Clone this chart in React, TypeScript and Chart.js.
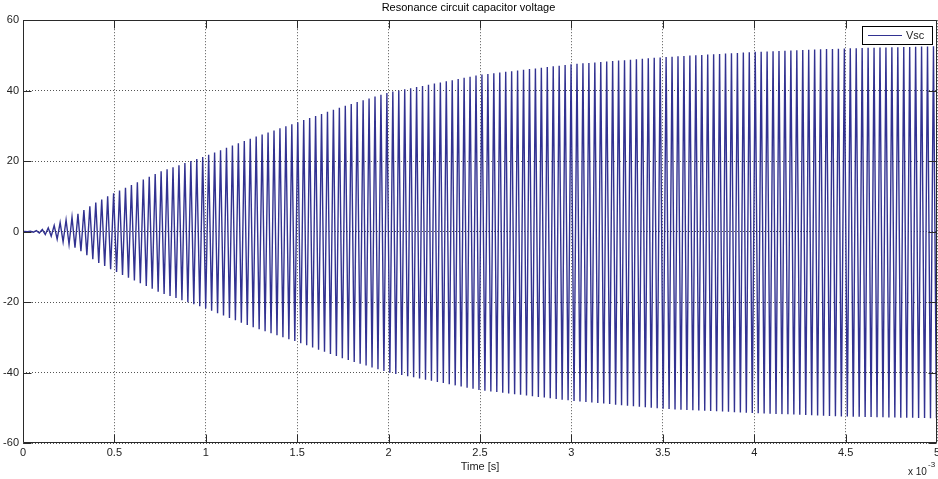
import React, { useEffect, useRef } from 'react';
import { Chart, registerables } from 'chart.js';

Chart.register(...registerables);

const TITLE = 'Resonance circuit capacitor voltage';
const X_LABEL = 'Time [s]';
const SERIES_NAME = 'Vsc';
const X_EXPONENT = '-3';
// x ticks in units of 10^-3 s
const X_TICKS = [0, 0.5, 1, 1.5, 2, 2.5, 3, 3.5, 4, 4.5, 5];
const Y_TICKS = [-60, -40, -20, 0, 20, 40, 60];

// envelope of the oscillation (time in 10^-3 s)
const ENV_T = [0, 0.05, 0.1, 0.15, 0.2, 0.25, 0.3, 0.4, 0.5, 0.75, 1.0, 1.25, 1.5, 1.75, 2.0, 2.5, 3.0, 3.5, 4.0, 4.5, 5.0];
const ENV_UPPER = [0, 0.1, 0.5, 1.2, 2.5, 3.6, 5.0, 8.3, 11.0, 17.0, 21.5, 26.5, 31.0, 35.5, 39.5, 44.5, 47.5, 49.5, 51.0, 52.0, 52.6];
const ENV_LOWER = [0, 0.1, 0.5, 1.2, 2.5, 3.6, 5.0, 8.5, 11.2, 17.3, 21.8, 27.0, 31.3, 36.0, 40.0, 45.0, 48.0, 50.3, 51.5, 52.5, 53.0];
// oscillation period (10^-3 s)
const PERIOD = 0.0325;

const FONT = 'Liberation Sans, Arial, Helvetica, sans-serif';
const LINE_COLOR = 'rgb(50,50,145)';

function envAt(arr: number[], t: number): number {
  for (let i = 0; i < ENV_T.length - 1; i++) {
    if (t <= ENV_T[i + 1]) {
      const f = (t - ENV_T[i]) / (ENV_T[i + 1] - ENV_T[i]);
      return arr[i] + f * (arr[i + 1] - arr[i]);
    }
  }
  return arr[arr.length - 1];
}

function buildPoints() {
  const pts: { x: number; y: number }[] = [{ x: 0, y: 0 }];
  let k = 0;
  for (let t = PERIOD / 4; t <= 5; t += PERIOD / 2, k++) {
    pts.push({ x: t, y: k % 2 === 0 ? envAt(ENV_UPPER, t) : -envAt(ENV_LOWER, t) });
  }
  return pts;
}

const framePlugin = {
  id: 'matlabFrame',
  afterDraw(chart: any) {
    const { ctx, chartArea } = chart;
    const { left, right, top, bottom } = chartArea;
    const xs = chart.scales.x;
    const ys = chart.scales.y;
    ctx.save();
    ctx.strokeStyle = '#2a2a2a';
    ctx.lineWidth = 1;
    const L = Math.round(left) + 0.5;
    const R = Math.round(right) - 0.5;
    const T = Math.round(top) + 0.5;
    const B = Math.round(bottom) - 0.5;
    ctx.beginPath();
    ctx.moveTo(L, T); ctx.lineTo(R, T); ctx.lineTo(R, B); ctx.lineTo(L, B); ctx.closePath();
    const tl = 8;
    X_TICKS.forEach((v) => {
      let px = Math.round(xs.getPixelForValue(v)) + 0.5;
      if (px > R) px = R;
      ctx.moveTo(px, B); ctx.lineTo(px, B - tl);
      ctx.moveTo(px, T); ctx.lineTo(px, T + tl);
    });
    Y_TICKS.forEach((v) => {
      const py = Math.round(ys.getPixelForValue(v)) + 0.5;
      ctx.moveTo(L, py); ctx.lineTo(L + tl, py);
      ctx.moveTo(R, py); ctx.lineTo(R - tl, py);
    });
    ctx.stroke();

    // legend
    const lx = 862.5, ly = 26.5, lw = 70, lh = 18;
    ctx.fillStyle = '#ffffff';
    ctx.fillRect(lx, ly, lw, lh);
    ctx.strokeStyle = '#000000';
    ctx.strokeRect(lx, ly, lw, lh);
    ctx.strokeStyle = LINE_COLOR;
    ctx.beginPath();
    ctx.moveTo(868, 35.5); ctx.lineTo(902, 35.5);
    ctx.stroke();
    ctx.fillStyle = '#222222';
    ctx.font = `11px ${FONT}`;
    ctx.textBaseline = 'middle';
    ctx.textAlign = 'left';
    ctx.fillText(SERIES_NAME, 906, 35.5);

    // exponent label
    ctx.fillStyle = '#222222';
    ctx.font = `10px ${FONT}`;
    ctx.fillText('x 10', 908, 472);
    ctx.font = `8px ${FONT}`;
    ctx.fillText(X_EXPONENT, 928, 465);
    ctx.restore();
  },
};

export default function App() {
  const ref = useRef<HTMLCanvasElement | null>(null);
  useEffect(() => {
    if (!ref.current) return;
    const chart = new Chart(ref.current, {
      type: 'line',
      data: {
        datasets: [
          {
            label: SERIES_NAME,
            data: buildPoints(),
            borderColor: LINE_COLOR,
            borderWidth: 1.4,
            pointRadius: 0,
            tension: 0,
            fill: false,
          },
        ],
      },
      options: {
        animation: false,
        responsive: false,
        devicePixelRatio: 1,
        parsing: false,
        normalized: true,
        layout: { padding: { left: 0, right: 1, top: 0, bottom: 0 } },
        plugins: {
          legend: { display: false },
          tooltip: { enabled: false },
          title: {
            display: true,
            text: TITLE,
            color: '#000',
            font: { family: FONT, size: 11, weight: 'normal' },
            padding: { top: 1, bottom: 6 },
          },
        },
        scales: {
          x: {
            type: 'linear',
            min: 0,
            max: 5,
            afterBuildTicks: (s: any) => {
              s.ticks = X_TICKS.map((v) => ({ value: v }));
            },
            afterFit: (s: any) => {
              s.height = 36;
              s.paddingLeft = 0;
              s.paddingRight = 0;
            },
            ticks: {
              color: '#222',
              font: { family: FONT, size: 11 },
              padding: 3,
              maxRotation: 0,
              autoSkip: false,
              callback: (v: any) => String(v),
            },
            grid: { color: '#555', lineWidth: 1, drawTicks: false },
            border: { display: false, dash: [1, 2] },
            title: {
              display: true,
              text: X_LABEL,
              color: '#222',
              font: { family: FONT, size: 11 },
              padding: { top: 0, bottom: 5 },
            },
          },
          y: {
            type: 'linear',
            min: -60,
            max: 60,
            afterBuildTicks: (s: any) => {
              s.ticks = Y_TICKS.map((v) => ({ value: v }));
            },
            afterFit: (s: any) => {
              s.width = 23;
              s.paddingTop = 0;
              s.paddingBottom = 0;
            },
            ticks: {
              color: '#222',
              font: { family: FONT, size: 11 },
              padding: 4,
              autoSkip: false,
              callback: (v: any) => String(v),
            },
            grid: { color: '#555', lineWidth: 1, drawTicks: false },
            border: { display: false, dash: [1, 2] },
          },
        },
      },
      plugins: [framePlugin],
    } as any);
    return () => chart.destroy();
  }, []);
  return (
    <div style={{ position: 'absolute', left: 0, top: 0, width: 938, height: 479, background: '#fff' }}>
      <canvas ref={ref} width={938} height={479} style={{ display: 'block' }} />
    </div>
  );
}
